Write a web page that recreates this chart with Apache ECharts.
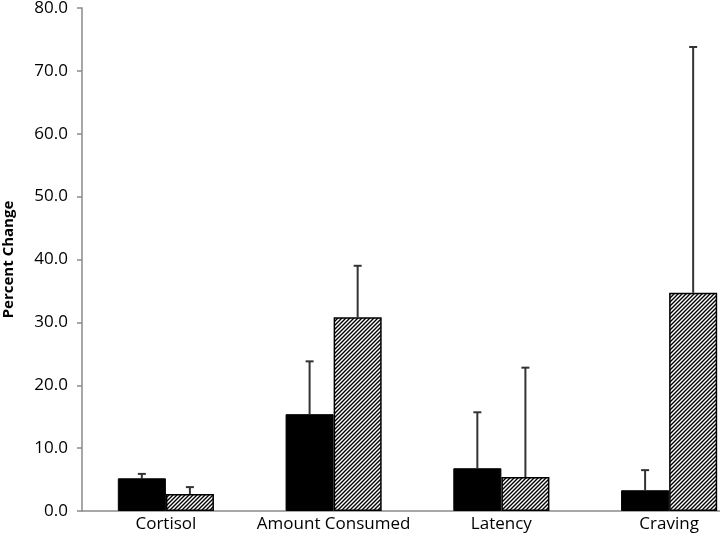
<!DOCTYPE html>
<html>
<head>
<meta charset="utf-8">
<script src="https://cdn.jsdelivr.net/npm/echarts@6/dist/echarts.min.js"></script>
<style>html,body{margin:0;padding:0;background:#fff}#c{width:720px;height:541px}</style>
</head>
<body>
<div id="c"></div>
<script>
const categories = ['Cortisol', 'Amount Consumed', 'Latency', 'Craving'];
const solidValues = [5.2, 15.4, 6.8, 3.3];
const solidErrors = [0.7, 8.4, 8.9, 3.2];
const hatchedValues = [2.7, 30.8, 5.4, 34.7];
const hatchedErrors = [1.1, 8.2, 17.4, 39.1];
const yTicks = [0, 10, 20, 30, 40, 50, 60, 70, 80];

function makeHatch() {
  const c = document.createElement('canvas');
  c.width = 4; c.height = 4;
  const g = c.getContext('2d');
  g.fillStyle = '#fff'; g.fillRect(0, 0, 4, 4);
  g.strokeStyle = '#000'; g.lineWidth = 1.4;
  g.beginPath();
  g.moveTo(-1, 5); g.lineTo(5, -1);
  g.moveTo(-1, 1); g.lineTo(1, -1);
  g.moveTo(3, 5); g.lineTo(5, 3);
  g.stroke();
  return c;
}
const hatch = { image: makeHatch(), repeat: 'repeat' };

const GAP = 0.427;
function errSeries(values, errs, side) {
  return {
    type: 'custom',
    z: 10,
    data: values.map((v, i) => [i, v, v + errs[i]]),
    renderItem: function (params, api) {
      const band = api.size([1, 0])[0];
      const bw = band * (1 - GAP) / 2;
      const base = api.coord([api.value(0), api.value(1)]);
      const top = api.coord([api.value(0), api.value(2)]);
      const x = base[0] + side * bw / 2;
      const style = { stroke: '#333', lineWidth: 2 };
      return {
        type: 'group',
        children: [
          { type: 'line', shape: { x1: x, y1: base[1], x2: x, y2: top[1] }, style: style },
          { type: 'line', shape: { x1: x - 4, y1: top[1], x2: x + 4, y2: top[1] }, style: style }
        ]
      };
    }
  };
}

const chart = echarts.init(document.getElementById('c'), null, { renderer: 'canvas' });
chart.setOption({
  animation: false,
  backgroundColor: '#fff',
  grid: { left: 82, width: 671, top: 8, height: 503, containLabel: false, outerBoundsMode: 'none' },
  xAxis: {
    type: 'category',
    data: categories,
    axisLine: { lineStyle: { color: '#8a8a8a', width: 1.5 } },
    axisTick: { show: false },
    axisLabel: { interval: 0, color: '#000', fontFamily: 'Open Sans', fontSize: 17, margin: 5 }
  },
  yAxis: {
    type: 'value',
    min: yTicks[0], max: yTicks[yTicks.length - 1], interval: 10,
    name: 'Percent Change',
    nameLocation: 'middle',
    nameGap: 66,
    nameRotate: 90,
    nameTextStyle: { color: '#000', fontFamily: 'Open Sans', fontSize: 15, fontWeight: 'bold' },
    axisLine: { show: true, lineStyle: { color: '#8a8a8a', width: 1.5 } },
    axisTick: { show: true, length: 5, lineStyle: { color: '#8a8a8a', width: 1.5 } },
    splitLine: { show: false },
    axisLabel: { color: '#000', fontFamily: 'Open Sans', fontSize: 17, margin: 14,
      formatter: v => v.toFixed(1) }
  },
  series: [
    { type: 'bar', data: solidValues, barGap: '0%', barCategoryGap: (GAP * 100) + '%',
      itemStyle: { color: '#000', borderColor: '#000', borderWidth: 1 } },
    { type: 'bar', data: hatchedValues, barGap: '0%', barCategoryGap: (GAP * 100) + '%',
      itemStyle: { color: hatch, borderColor: '#000', borderWidth: 1.5 } },
    errSeries(solidValues, solidErrors, -1),
    errSeries(hatchedValues, hatchedErrors, 1)
  ]
});
</script>
</body>
</html>
